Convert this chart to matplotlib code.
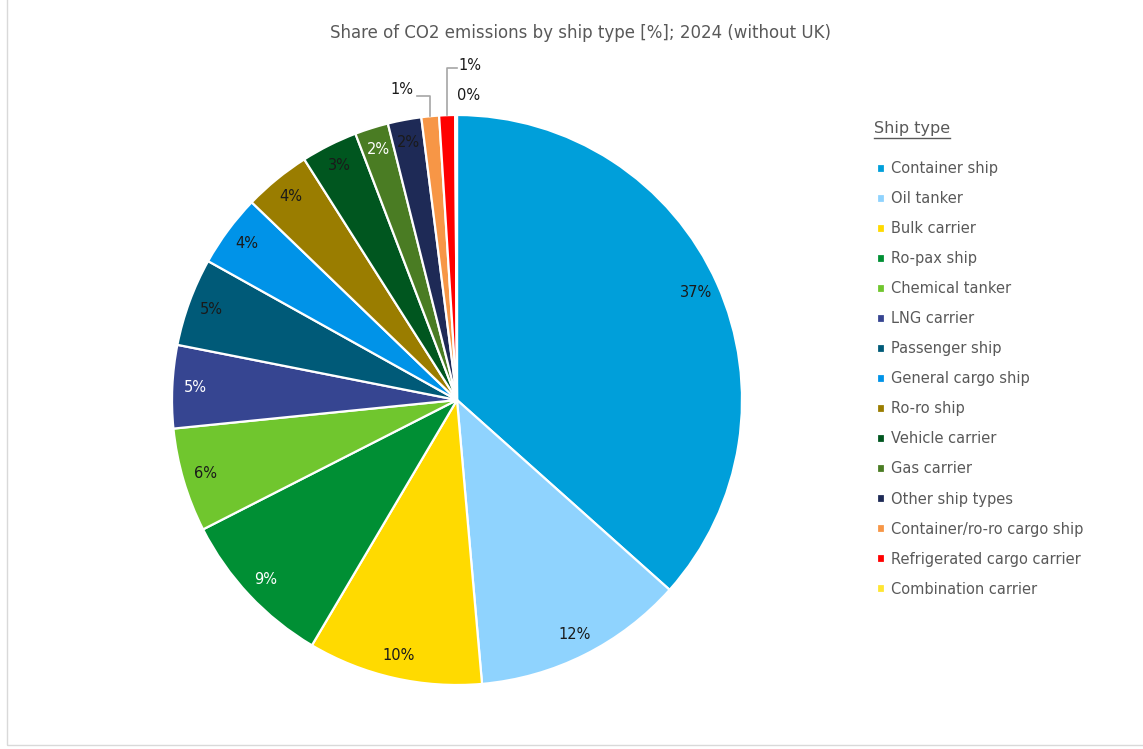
import numpy as np
import matplotlib
matplotlib.use("Agg")
import matplotlib.pyplot as plt
from matplotlib.patches import Rectangle
from matplotlib.lines import Line2D

plt.rcParams['font.family'] = ['DejaVu Sans']

ship_types = ["Container ship", "Oil tanker", "Bulk carrier", "Ro-pax ship",
              "Chemical tanker", "LNG carrier", "Passenger ship",
              "General cargo ship", "Ro-ro ship", "Vehicle carrier",
              "Gas carrier", "Other ship types", "Container/ro-ro cargo ship",
              "Refrigerated cargo carrier", "Combination carrier"]
shares = [36.6, 12.0, 9.9, 9.0, 5.9, 4.7, 5.0, 4.1, 3.8, 3.2, 1.9, 1.9, 1.0, 0.9, 0.1]
colors = ["#009FDA", "#8FD3FE", "#FFDA00", "#008F34", "#70C62E", "#364591",
          "#005A78", "#0093E8", "#9A7D00", "#00561F", "#4A7C23", "#1E2A56",
          "#F79646", "#FF0000", "#FFE632"]
label_colors = ["#1a1a1a", "#1a1a1a", "#1a1a1a", "white", "#1a1a1a", "white",
                "#1a1a1a", "#1a1a1a", "#1a1a1a", "#1a1a1a", "white", "#1a1a1a",
                "#1a1a1a", "#1a1a1a", "#1a1a1a"]

W, H = 1143, 749
cx, cy, rpx = 457, 400, 285   # pie centre and radius in pixels

fig = plt.figure(figsize=(W / 100, H / 100), dpi=100)
ax = fig.add_axes([0, 0, 1, 1])

wedges, _, pcts = ax.pie(shares, colors=colors, startangle=90, counterclock=False,
                         autopct=lambda p: f"{p:.0f}%", pctdistance=0.92,
                         wedgeprops=dict(edgecolor="white", linewidth=1.6),
                         textprops=dict(fontsize=10.5))
ax.set_xlim(-cx / rpx, (W - cx) / rpx)
ax.set_ylim(-(H - cy) / rpx, cy / rpx)
ax.set_aspect("auto")
ax.axis("off")

for t, c in zip(pcts, label_colors):
    t.set_color(c)

# small slices at the top get labels outside with leader lines
def wedge_top(w):
    a = np.deg2rad((w.theta1 + w.theta2) / 2)
    return np.cos(a), np.sin(a)

x0, y0 = wedge_top(wedges[12])
pcts[12].set_position((-0.193, 1.088))
ax.add_line(Line2D([x0, x0, x0 - 0.045], [y0, 1.067, 1.067], color="#A6A6A6", lw=1.2))

x0, y0 = wedge_top(wedges[13])
pcts[13].set_position((0.046, 1.172))
ax.add_line(Line2D([x0, x0, x0 + 0.035], [y0, 1.165, 1.165], color="#A6A6A6", lw=1.2))

pcts[14].set_position((0.039, 1.067))

fig.text(580 / W, 1 - 33 / H, "Share of CO2 emissions by ship type [%]; 2024 (without UK)",
         ha="center", va="center", fontsize=12, color="#595959")

# legend
leg = fig.legend(wedges, ship_types, loc="upper left",
                 bbox_to_anchor=(870 / W, 1 - 154 / H), frameon=False,
                 fontsize=10.5, handlelength=0.55, handleheight=0.55,
                 handletextpad=0.4, labelspacing=1.03, borderpad=0)
for t in leg.get_texts():
    t.set_color("#595959")

title = fig.text(874 / W, 1 - 129 / H, "Ship type", ha="left", va="center",
                 fontsize=11.5, color="#595959")
fig.canvas.draw()
bb = title.get_window_extent().transformed(fig.transFigure.inverted())
fig.add_artist(Line2D([bb.x0, bb.x1], [bb.y0 - 0.002, bb.y0 - 0.002],
                      transform=fig.transFigure, color="#595959", lw=1))

fig.add_artist(Rectangle((7 / W, 4 / H), 1.2, 1.2, transform=fig.transFigure,
                         fill=False, edgecolor="#D9D9D9", lw=1))

fig.savefig("out.png", dpi=100)
